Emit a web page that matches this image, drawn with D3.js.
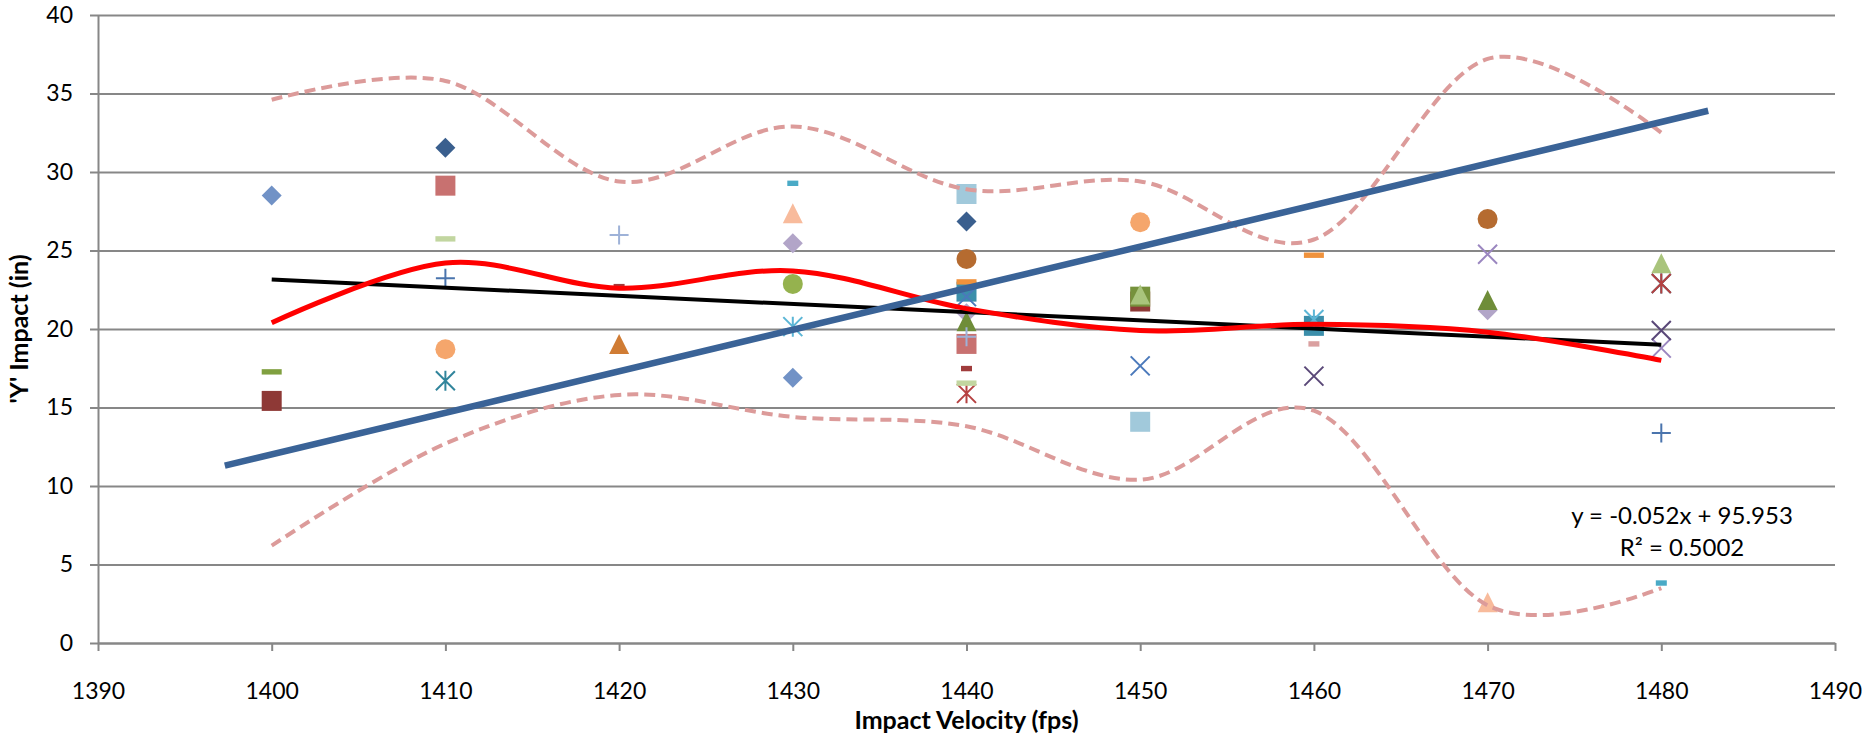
<!DOCTYPE html>
<html>
<head>
<meta charset="utf-8">
<script src="https://cdnjs.cloudflare.com/ajax/libs/d3/7.8.5/d3.min.js"></script>
<style>
  body { margin: 0; background: #fff; }
  svg { display: block; font-family: Lato, "Noto Sans", sans-serif; }
</style>
</head>
<body>
<svg id="chart" width="1868" height="734"></svg>
<script>
// velocities the shot groups were fired at
const velocities = [1400, 1410, 1420, 1430, 1440, 1450, 1460, 1470, 1480];

// group mean and the +/- band around it
const meanImpact = [20.4, 24.2, 22.6, 23.7, 21.3, 19.9, 20.3, 19.8, 18.0];
const upperBand  = [34.6, 35.8, 29.4, 32.9, 28.9, 29.4, 25.7, 37.2, 32.5];
const lowerBand  = [6.2, 12.7, 15.8, 14.4, 13.8, 10.4, 14.8, 2.4, 3.5];

// linear fit, as printed on the chart
const fitSlope = -0.052;
const fitIntercept = 95.953;
const fitR2 = 0.5002;

// the steep blue line, its two ends
const blueLineX = [1397.3, 1482.7];
const blueLineY = [11.3, 33.9];

// ticks
const xTicks = [1390, 1400, 1410, 1420, 1430, 1440, 1450, 1460, 1470, 1480, 1490];
const yTicks = [0, 5, 10, 15, 20, 25, 30, 35, 40];

// single shots, one small array per marker series
const diamondLight  = [[1400, 28.5], [1430, 16.9]];
const diamondDark   = [[1410, 31.55], [1440, 26.84]];
const diamondLilac  = [[1430, 25.46], [1440, 21.0], [1470, 21.2]];
const squarePink    = [[1410, 29.13], [1440, 19.05]];
const squareMaroon  = [[1400, 15.42], [1450, 21.75]];
const squareSky     = [[1440, 28.6], [1450, 14.09]];
const squareTeal    = [[1440, 22.38], [1460, 20.2]];
const squareOlive   = [[1450, 22.06]];
const triLime       = [[1450, 22.2], [1480, 24.19]];
const triOlive      = [[1440, 20.5], [1470, 21.85]];
const triOrange     = [[1420, 19.05]];
const triPeach      = [[1430, 27.37], [1470, 2.6]];
const crossBlue     = [[1440, 22.06], [1450, 17.65]];
const crossLilac    = [[1470, 24.76], [1480, 18.78]];
const crossPurple   = [[1460, 17.0], [1480, 19.9]];
const starTeal      = [[1410, 16.7], [1480, 22.9]];
const starCyan      = [[1430, 20.15], [1460, 20.6]];
const starRed       = [[1440, 15.9], [1480, 22.9]];
const circleBrown   = [[1440, 24.46], [1470, 27.0]];
const circleOrange  = [[1410, 18.71], [1450, 26.8]];
const circleGreen   = [[1430, 22.87]];
const plusBlue      = [[1410, 23.23], [1480, 13.37]];
const plusLight     = [[1420, 25.99], [1440, 19.5]];
const dashGreen     = [[1400, 17.27]];
const dashPale      = [[1410, 25.74], [1440, 16.55]];
const dashMaroon    = [[1420, 22.7], [1440, 17.48]];
const dashCyan      = [[1430, 29.28], [1480, 3.82]];
const dashOrange    = [[1440, 23.0], [1460, 24.7]];
const dashRose      = [[1460, 19.05]];

const markerSeries = [
    { data: diamondLight, shape: "diamond", color: "#7192c6" },
    { data: diamondDark, shape: "diamond", color: "#3a5f8e" },
    { data: diamondLilac, shape: "diamond", color: "#b2a5c8" },
    { data: squarePink, shape: "square", color: "#c87170" },
    { data: squareMaroon, shape: "square", color: "#8e3936" },
    { data: squareSky, shape: "square", color: "#a1c9db" },
    { data: squareTeal, shape: "square", color: "#3b8eaa" },
    { data: squareOlive, shape: "square", color: "#76923c" },
    { data: triOrange, shape: "triangle", color: "#d07c34" },
    { data: triPeach, shape: "triangle", color: "#f8bb9c" },
    { data: triOlive, shape: "triangle", color: "#6f8d39" },
    { data: triLime, shape: "triangle", color: "#a9c47c" },
    { data: crossBlue, shape: "cross", color: "#4a79bb" },
    { data: crossLilac, shape: "cross", color: "#9b87c0" },
    { data: crossPurple, shape: "cross", color: "#5a4878" },
    { data: starTeal, shape: "star", color: "#31859c" },
    { data: starCyan, shape: "star", color: "#5cb6d6" },
    { data: starRed, shape: "star", color: "#b64141" },
    { data: circleBrown, shape: "circle", color: "#b56b30" },
    { data: circleOrange, shape: "circle", color: "#f5a66c" },
    { data: circleGreen, shape: "circle", color: "#95b24e" },
    { data: plusBlue, shape: "plus", color: "#4a74ad" },
    { data: plusLight, shape: "plus", color: "#9eb2d8" },
    { data: dashGreen, shape: "dash", color: "#80a040" },
    { data: dashPale, shape: "dash", color: "#c2d6a0" },
    { data: dashOrange, shape: "dash", color: "#f0923c" },
    { data: dashMaroon, shape: "shortdash", color: "#a03c3c" },
    { data: dashCyan, shape: "shortdash", color: "#4aaac6" },
    { data: dashRose, shape: "shortdash", color: "#daa0a0" }
];

// marker outlines, centered on 0,0
const shapes = {
    diamond: "M0,-10L10,0L0,10L-10,0Z",
    square: "M-10,-10H10V10H-10Z",
    triangle: "M0,-10L10,10H-10Z",
    circle: d3.symbol(d3.symbolCircle, Math.PI * 100)(),
    cross: "M-9.5,-9.5L9.5,9.5M9.5,-9.5L-9.5,9.5",
    plus: "M-9.5,0H9.5M0,-9.5V9.5",
    star: "M-9.5,-9.5L9.5,9.5M9.5,-9.5L-9.5,9.5M0,-10V10",
    dash: "M-10,-2.7H10V2.7H-10Z",
    shortdash: "M-5.5,-2.7H5.5V2.7H-5.5Z"
};
const stroked = ["cross", "plus", "star"];

const svg = d3.select("#chart");
const margin = { left: 98, top: 15, right: 33, bottom: 91 };
const W = 1868, H = 734;

const x = d3.scaleLinear().domain([1390, 1490]).range([margin.left, W - margin.right]);
const y = d3.scaleLinear().domain([0, 40]).range([H - margin.bottom, margin.top]);

// gridlines
svg.append("g")
    .attr("transform", `translate(${margin.left},0)`)
    .call(d3.axisLeft(y).tickValues(yTicks).tickSize(-(W - margin.left - margin.right)).tickFormat(""))
    .call(g => g.select(".domain").remove())
    .call(g => g.selectAll("line").attr("stroke", "#878787").attr("stroke-width", 2));

// y axis
svg.append("g")
    .attr("transform", `translate(${margin.left},0)`)
    .call(d3.axisLeft(y).tickValues(yTicks).tickSize(8).tickPadding(17).tickSizeOuter(0))
    .call(g => g.select(".domain").attr("stroke", "#878787").attr("stroke-width", 2))
    .call(g => g.selectAll("line").attr("stroke", "#878787").attr("stroke-width", 2))
    .call(g => g.selectAll("text").attr("font-size", 23).attr("fill", "#000").attr("font-family", "Lato"));

// x axis
svg.append("g")
    .attr("transform", `translate(0,${y(0)})`)
    .call(d3.axisBottom(x).tickValues(xTicks).tickFormat(d3.format("d")).tickSize(8).tickPadding(32).tickSizeOuter(0))
    .call(g => g.select(".domain").attr("stroke", "#878787").attr("stroke-width", 2))
    .call(g => g.selectAll("line").attr("stroke", "#878787").attr("stroke-width", 2))
    .call(g => g.selectAll("text").attr("font-size", 23).attr("fill", "#000").attr("font-family", "Lato"));

// markers
markerSeries.forEach(function(s) {
    let isLine = stroked.includes(s.shape);
    svg.append("g")
        .selectAll("path")
        .data(s.data)
        .join("path")
        .attr("transform", d => `translate(${x(d[0])},${y(d[1])})`)
        .attr("d", shapes[s.shape])
        .attr("fill", isLine ? "none" : s.color)
        .attr("stroke", isLine ? s.color : "none")
        .attr("stroke-width", 2);
});

const smooth = d3.line()
    .x((d, i) => x(velocities[i]))
    .y(d => y(d))
    .curve(d3.curveCardinal.tension(0));

// dashed band
[upperBand, lowerBand].forEach(function(band) {
    svg.append("path")
        .attr("d", smooth(band))
        .attr("fill", "none")
        .attr("stroke", "#dc9b9a")
        .attr("stroke-width", 4)
        .attr("stroke-dasharray", "11,6");
});

// linear fit
let fitEnds = [velocities[0], velocities[velocities.length - 1]];
svg.append("line")
    .attr("x1", x(fitEnds[0])).attr("y1", y(fitSlope * fitEnds[0] + fitIntercept))
    .attr("x2", x(fitEnds[1])).attr("y2", y(fitSlope * fitEnds[1] + fitIntercept))
    .attr("stroke", "#000")
    .attr("stroke-width", 4);

// mean line
svg.append("path")
    .attr("d", smooth(meanImpact))
    .attr("fill", "none")
    .attr("stroke", "#ff0000")
    .attr("stroke-width", 5);

// blue line
svg.append("line")
    .attr("x1", x(blueLineX[0])).attr("y1", y(blueLineY[0]))
    .attr("x2", x(blueLineX[1])).attr("y2", y(blueLineY[1]))
    .attr("stroke", "#3a6397")
    .attr("stroke-width", 6.5);

// fit label
let label = svg.append("text")
    .attr("text-anchor", "middle")
    .attr("font-size", 24)
    .attr("fill", "#000");
label.append("tspan").attr("x", 1682).attr("y", 524)
    .text(`y = ${fitSlope}x + ${fitIntercept}`);
label.append("tspan").attr("x", 1682).attr("y", 556)
    .text(`R² = ${fitR2}`);

// axis titles
svg.append("text")
    .attr("x", (x.range()[0] + x.range()[1]) / 2)
    .attr("y", 729)
    .attr("text-anchor", "middle")
    .attr("font-size", 25)
    .attr("font-weight", "bold")
    .text("Impact Velocity (fps)");

svg.append("text")
    .attr("transform", `translate(28,${(y.range()[0] + y.range()[1]) / 2}) rotate(-90)`)
    .attr("text-anchor", "middle")
    .attr("font-size", 25)
    .attr("font-weight", "bold")
    .text("'Y' Impact (in)");
</script>
</body>
</html>
